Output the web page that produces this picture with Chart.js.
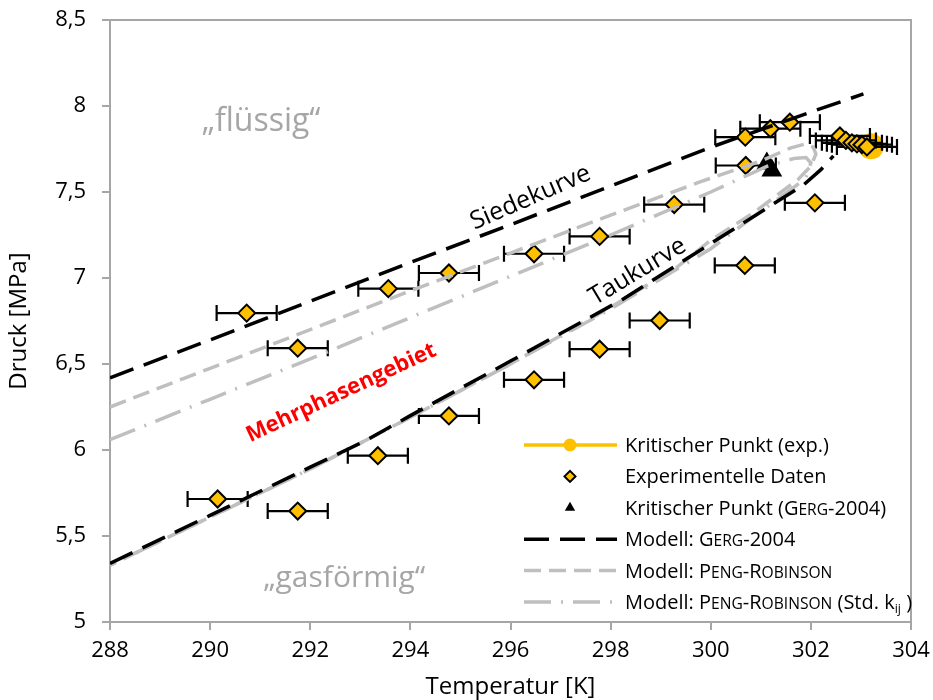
<!DOCTYPE html>
<html>
<head>
<meta charset="utf-8">
<script src="https://cdn.jsdelivr.net/npm/chart.js@4.4.1/dist/chart.umd.min.js"></script>
<style>
  html, body { margin: 0; padding: 0; background: #fff; }
</style>
</head>
<body>
<canvas id="diagramm" width="933" height="700"></canvas>
<script>
// ---------- Messwerte (Temperatur in K, Druck in MPa) ----------
var expT = [290.73, 291.75, 293.56, 294.77, 296.47, 297.78, 299.27, 300.69, 301.19, 301.58, 300.70, 302.08,
            300.68, 298.98, 297.78, 296.47, 294.77, 293.35, 290.15, 291.75,
            302.58, 302.70, 302.82, 302.92, 303.02, 303.12];
var expP = [6.796, 6.592, 6.938, 7.029, 7.141, 7.242, 7.427, 7.819, 7.868, 7.906, 7.654, 7.437,
            7.073, 6.753, 6.586, 6.408, 6.198, 5.967, 5.715, 5.645,
            7.826, 7.800, 7.786, 7.780, 7.775, 7.762];
var fehlerT = 0.6; // +/- K, horizontale Fehlerbalken

var kritExpT = [303.2];
var kritExpP = [7.766];

var kritGergT = [301.12, 301.22];
var kritGergP = [7.665, 7.625];

// ---------- Modellkurven ----------
var gergSiedeT = [288, 290, 292, 294, 296, 298, 300, 302, 303.05];
var gergSiedeP = [6.42, 6.64, 6.865, 7.09, 7.31, 7.535, 7.76, 7.965, 8.07];

var gergTauT = [288, 290, 292, 293.13, 294, 296, 298.23, 300, 301, 301.86, 302.2, 302.45];
var gergTauP = [5.34, 5.62, 5.90, 6.058, 6.20, 6.517, 6.874, 7.20, 7.384, 7.543, 7.63, 7.71];

var prT = [288, 290, 292, 294, 296, 298, 299.8, 301, 301.6, 301.9, 302.05, 302.1, 302.0, 301.74,
           300.86, 300, 299.34, 298, 296, 294, 292, 290, 288];
var prP = [6.25, 6.475, 6.70, 6.925, 7.145, 7.365, 7.56, 7.68, 7.757, 7.78, 7.76, 7.72, 7.65, 7.572,
           7.38, 7.22, 7.066, 6.83, 6.50, 6.19, 5.89, 5.61, 5.33];

var prStdT = [288, 290, 292, 294, 296, 298, 300, 301.13, 301.66, 301.9, 302.0, 301.9, 301.3,
              300.73, 300, 298, 296, 294, 292, 290, 288];
var prStdP = [6.06, 6.295, 6.53, 6.77, 7.01, 7.25, 7.50, 7.65, 7.695, 7.70, 7.67, 7.58, 7.45,
              7.33, 7.17, 6.82, 6.50, 6.19, 5.89, 5.61, 5.33];

var xTicks = [288, 290, 292, 294, 296, 298, 300, 302, 304];
var yTicks = [5, 5.5, 6, 6.5, 7, 7.5, 8, 8.5];

var GELB = "#ffc000", GRAU = "#bfbfbf", ACHSE = "#a6a6a6";
var SCHRIFT = "'Open Sans', sans-serif";

// Legendenreihen: Datensatz-Index, Linienbreite, Markergröße, Textteile (k = Kapitälchen, sub = Index)
var legendeReihen = [
  { ds: 1, linie: 3.5, punkt: 6.5, text: [{ s: "Kritischer Punkt (exp.)" }] },
  { ds: 0, punkt: 5.5, text: [{ s: "Experimentelle Daten" }] },
  { ds: 2, punkt: 6, text: [{ s: "Kritischer Punkt (" }, { s: "G" }, { s: "ERG", k: 1 }, { s: "-2004)" }] },
  { ds: 3, linie: 3.5, text: [{ s: "Modell: " }, { s: "G" }, { s: "ERG", k: 1 }, { s: "-2004" }] },
  { ds: 5, linie: 3.5, text: [{ s: "Modell: " }, { s: "P" }, { s: "ENG", k: 1 }, { s: "-R" }, { s: "OBINSON", k: 1 }] },
  { ds: 6, linie: 3.5, text: [{ s: "Modell: " }, { s: "P" }, { s: "ENG", k: 1 }, { s: "-R" }, { s: "OBINSON", k: 1 },
                               { s: " (Std. k" }, { s: "ij", sub: 1 }, { s: " )" }] }
];

function punkte(xs, ys) {
  return xs.map(function (x, i) { return { x: x, y: ys[i] }; });
}
function komma(v) { return String(v).replace(".", ","); }

// ---------- Fehlerbalken unter den Rauten ----------
var fehlerbalken = {
  id: "fehlerbalken",
  beforeDatasetDraw: function (chart, args) {
    if (args.index !== 0) return;
    var ctx = chart.ctx, sx = chart.scales.x, sy = chart.scales.y;
    ctx.save();
    ctx.strokeStyle = "#000";
    ctx.lineWidth = 2.2;
    expT.forEach(function (t, i) {
      var y = sy.getPixelForValue(expP[i]);
      var x1 = sx.getPixelForValue(t - fehlerT), x2 = sx.getPixelForValue(t + fehlerT);
      ctx.beginPath();
      ctx.moveTo(x1, y); ctx.lineTo(x2, y);
      ctx.moveTo(x1, y - 8); ctx.lineTo(x1, y + 8);
      ctx.moveTo(x2, y - 8); ctx.lineTo(x2, y + 8);
      ctx.stroke();
    });
    ctx.restore();
  }
};

// ---------- Rahmen oben/rechts ----------
var rahmen = {
  id: "rahmen",
  beforeDatasetsDraw: function (chart) {
    var a = chart.chartArea, ctx = chart.ctx;
    ctx.save();
    ctx.strokeStyle = ACHSE;
    ctx.lineWidth = 2;
    ctx.beginPath();
    ctx.moveTo(a.left, a.top); ctx.lineTo(a.right, a.top); ctx.lineTo(a.right, a.bottom);
    ctx.stroke();
    ctx.restore();
  }
};

// ---------- Beschriftungen im Diagramm ----------
var beschriftungen = [
  { t: 291.02, p: 7.905, text: "\u201Eflüssig\u201C", farbe: "#a6a6a6", font: "32px " + SCHRIFT, winkel: 0 },
  { t: 292.68, p: 5.254, text: "\u201Egasförmig\u201C", farbe: "#a6a6a6", font: "30px " + SCHRIFT, winkel: 0 },
  { t: 296.4, p: 7.467, text: "Siedekurve", farbe: "#000", font: "25px " + SCHRIFT, winkel: -23.5 },
  { t: 298.54, p: 7.037, text: "Taukurve", farbe: "#000", font: "25px " + SCHRIFT, winkel: -31 },
  { t: 292.62, p: 6.332, text: "Mehrphasengebiet", farbe: "#ff0000", font: "bold 22px " + SCHRIFT, winkel: -25 }
];
var texte = {
  id: "texte",
  afterDatasetsDraw: function (chart) {
    var ctx = chart.ctx, sx = chart.scales.x, sy = chart.scales.y;
    beschriftungen.forEach(function (b) {
      ctx.save();
      ctx.translate(sx.getPixelForValue(b.t), sy.getPixelForValue(b.p));
      ctx.rotate(b.winkel * Math.PI / 180);
      ctx.font = b.font;
      ctx.fillStyle = b.farbe;
      ctx.textAlign = "center";
      ctx.textBaseline = "middle";
      ctx.fillText(b.text, 0, 0);
      ctx.restore();
    });
  }
};

// ---------- Legende (mit Kapitälchen und Index) ----------
function schreibe(ctx, teile, x, y, g) {
  teile.forEach(function (s) {
    var groesse = g, dy = 0;
    if (s.k) groesse = g * 0.78;
    if (s.sub) { groesse = g * 0.62; dy = g * 0.22; }
    ctx.font = groesse + "px " + SCHRIFT;
    ctx.fillText(s.s, x, y + dy);
    x += ctx.measureText(s.s).width;
  });
}
var legende = {
  id: "legende",
  afterDraw: function (chart) {
    var ctx = chart.ctx, ds = chart.data.datasets;
    var x0 = 524, x1 = 617, xm = 570, xt = 625, y0 = 445, dy = 31.4, g = 20;
    ctx.save();
    ctx.fillStyle = "#fff";
    ctx.fillRect(516, 426, 392, 192);
    legendeReihen.forEach(function (r, i) {
      var y = y0 + i * dy, d = ds[r.ds];
      if (r.linie) {
        ctx.save();
        ctx.strokeStyle = d.borderColor;
        ctx.lineWidth = r.linie;
        ctx.setLineDash(d.borderDash || []);
        ctx.beginPath(); ctx.moveTo(x0, y); ctx.lineTo(x1, y); ctx.stroke();
        ctx.restore();
      }
      if (r.punkt) {
        ctx.fillStyle = d.pointBackgroundColor;
        ctx.strokeStyle = d.pointBorderColor;
        ctx.lineWidth = d.pointBorderWidth || 0;
        Chart.helpers.drawPoint(ctx, {
          pointStyle: d.pointStyle, radius: r.punkt, rotation: 0,
          borderWidth: d.pointBorderWidth || 0
        }, xm, y);
      }
      ctx.fillStyle = "#000";
      ctx.textAlign = "left";
      ctx.textBaseline = "alphabetic";
      schreibe(ctx, r.text, xt, y + 7, g);
    });
    ctx.restore();
  }
};

var chart = new Chart(document.getElementById("diagramm"), {
  type: "scatter",
  data: {
    datasets: [
      { label: "Experimentelle Daten", data: punkte(expT, expP), order: 9,
        pointStyle: "rectRot", pointRadius: 8.5, pointBackgroundColor: GELB,
        pointBorderColor: "#000", pointBorderWidth: 2 },
      { label: "Kritischer Punkt (exp.)", data: punkte(kritExpT, kritExpP), order: 10,
        pointStyle: "circle", pointRadius: 13, pointBackgroundColor: GELB,
        pointBorderColor: GELB, pointBorderWidth: 0, borderColor: GELB, borderWidth: 3 },
      { label: "Kritischer Punkt (GERG-2004)", data: punkte(kritGergT, kritGergP), order: 8,
        pointStyle: "triangle", pointRadius: 12, pointBackgroundColor: "#000",
        pointBorderColor: "#000", pointBorderWidth: 0 },
      { label: "Modell: GERG-2004", data: punkte(gergSiedeT, gergSiedeP), order: 1,
        showLine: true, pointRadius: 0, borderColor: "#000", borderWidth: 3.5, borderDash: [25, 11] },
      { label: "Modell: GERG-2004 (Tau)", data: punkte(gergTauT, gergTauP), order: 0,
        showLine: true, pointRadius: 0, borderColor: "#000", borderWidth: 3.5, borderDash: [25, 11] },
      { label: "Modell: PENG-ROBINSON", data: punkte(prT, prP), order: 2,
        showLine: true, pointRadius: 0, borderColor: GRAU, borderWidth: 3.5, borderDash: [17, 8] },
      { label: "Modell: PENG-ROBINSON (Std. kij)", data: punkte(prStdT, prStdP), order: 3,
        showLine: true, pointRadius: 0, borderColor: GRAU, borderWidth: 3.5, borderDash: [27, 10, 2, 10] }
    ]
  },
  options: {
    responsive: false,
    animation: false,
    events: [],
    layout: { padding: { top: 20, right: 22, left: 0, bottom: 0 } },
    plugins: { legend: { display: false }, tooltip: { enabled: false } },
    scales: {
      x: {
        type: "linear", min: 288, max: 304,
        afterFit: function (s) { s.height = 78; s.paddingLeft = 0; s.paddingRight = 0; },
        afterBuildTicks: function (s) { s.ticks = xTicks.map(function (v) { return { value: v }; }); },
        ticks: { color: "#000", padding: 8, font: { family: SCHRIFT, size: 22 }, callback: komma },
        grid: { drawOnChartArea: false, drawTicks: true, tickLength: 8, color: ACHSE, lineWidth: 2 },
        border: { color: ACHSE, width: 2 },
        title: { display: true, text: "Temperatur [K]", color: "#000", padding: { top: 0, bottom: 1 },
                 font: { family: SCHRIFT, size: 24, lineHeight: 1 } }
      },
      y: {
        type: "linear", min: 5, max: 8.5,
        afterFit: function (s) { s.width = 110; s.paddingTop = 0; s.paddingBottom = 0; },
        afterBuildTicks: function (s) { s.ticks = yTicks.map(function (v) { return { value: v }; }); },
        ticks: { color: "#000", padding: 16, font: { family: SCHRIFT, size: 22 }, callback: komma },
        grid: { drawOnChartArea: false, drawTicks: true, tickLength: 8, color: ACHSE, lineWidth: 2 },
        border: { color: ACHSE, width: 2 },
        title: { display: true, text: "Druck [MPa]", color: "#000", padding: { top: 7, bottom: 0 },
                 font: { family: SCHRIFT, size: 24, lineHeight: 1 } }
      }
    }
  },
  plugins: [fehlerbalken, rahmen, texte, legende]
});
</script>
</body>
</html>
